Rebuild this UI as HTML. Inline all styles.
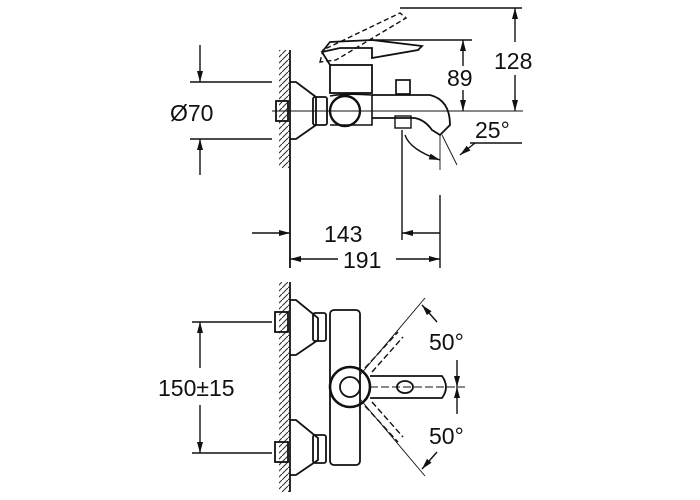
<!DOCTYPE html>
<html><head><style>body{margin:0;background:#fff}svg{display:block}</style></head><body>
<svg width="700" height="500" viewBox="0 0 700 500" xmlns="http://www.w3.org/2000/svg" font-family="Liberation Sans, sans-serif">
<defs>
<marker id="a" markerWidth="11" markerHeight="8" refX="11" refY="4" orient="auto" markerUnits="userSpaceOnUse"><path d="M0,1 L11,4 L0,7z" fill="#111"/></marker>
<pattern id="h" width="6" height="6" patternUnits="userSpaceOnUse"><path d="M0,6 L6,0" stroke="#333" stroke-width="1.1"/></pattern>
</defs>
<g stroke="#111" fill="none" stroke-width="1.4">
<!-- TOP VIEW -->
<rect x="279" y="50" width="10" height="118" fill="url(#h)" stroke="none"/>
<line x1="290" y1="50" x2="290" y2="268" stroke-width="1.8"/>
<line x1="190" y1="82" x2="272" y2="82"/><line x1="190" y1="139" x2="272" y2="139"/>
<line x1="200" y1="45" x2="200" y2="82" marker-end="url(#a)"/><line x1="200" y1="175" x2="200" y2="139" marker-end="url(#a)"/>
<line x1="272" y1="111" x2="523" y2="111" stroke-width="0.9"/>
<rect x="276" y="101" width="12" height="20" stroke-width="1.8"/>
<path d="M290,82 L296,82 L316,97 L316,125 L296,139 L290,139" stroke-width="1.8"/>
<rect x="313" y="97" width="14" height="28" rx="2" stroke-width="1.8"/>
<circle cx="345" cy="111" r="15" stroke-width="2.4"/>
<path d="M330,96 Q345,93 372,95 L372,125 L330,125" stroke-width="1.6"/>
<rect x="330" y="65" width="42" height="28" stroke-width="1.8"/>
<path d="M330,65 L322,52 L340,48 L372,48 L372,58 L418,50 L422,46 L372,40 L330,42 L322,52" stroke-width="1.8"/>
<path d="M320,62 L323,50 L400,13 L406,18 L336,60z" stroke-dasharray="5,3"/>
<path d="M372,95 L430,95 Q450,100 450,125 L440,135 L432,130 Q425,120 415,118 L372,118" stroke-width="1.8"/>
<rect x="396" y="80" width="14" height="14" stroke-width="1.7"/>
<rect x="395" y="116" width="16" height="12"/>
<path d="M405,135 Q410,150 440,160" marker-end="url(#a)"/>
<line x1="440" y1="135" x2="440" y2="170" stroke-width="0.9"/>
<line x1="442" y1="135" x2="457" y2="165" stroke-width="0.9"/>
<line x1="372" y1="40" x2="472" y2="40"/>
<line x1="463" y1="66" x2="463" y2="40" marker-end="url(#a)"/><line x1="463" y1="90" x2="463" y2="111" marker-end="url(#a)"/>
<line x1="400" y1="8" x2="522" y2="8"/>
<line x1="515" y1="42" x2="515" y2="8" marker-end="url(#a)"/><line x1="515" y1="75" x2="515" y2="111" marker-end="url(#a)"/>
<line x1="470" y1="143" x2="522" y2="143"/><line x1="475" y1="143" x2="460" y2="155" marker-end="url(#a)"/>
<line x1="402" y1="130" x2="402" y2="240"/>
<line x1="440" y1="195" x2="440" y2="268"/>
<line x1="252" y1="233" x2="290" y2="233" marker-end="url(#a)"/><line x1="440" y1="233" x2="402" y2="233" marker-end="url(#a)"/>
<line x1="338" y1="259" x2="290" y2="259" marker-end="url(#a)"/><line x1="396" y1="259" x2="440" y2="259" marker-end="url(#a)"/>
<!-- BOTTOM VIEW -->
<rect x="279" y="282" width="10" height="210" fill="url(#h)" stroke="none"/>
<line x1="290" y1="282" x2="290" y2="492" stroke-width="1.8"/>
<g stroke-width="1.8">
<rect x="275" y="312" width="13" height="20"/>
<path d="M290,300 L296,300 L318,318 L318,340 L296,355 L290,355"/>
<rect x="313" y="313" width="13" height="28" rx="2"/>
<rect x="275" y="442" width="13" height="20"/>
<path d="M290,420 L296,420 L318,438 L318,460 L296,475 L290,475"/>
<rect x="313" y="435" width="13" height="28" rx="2"/>
<rect x="330" y="310" width="30" height="155" rx="4"/>
<circle cx="350" cy="387" r="20" stroke-width="2.6"/>
<circle cx="350" cy="387" r="10"/>
<path d="M370,376 L442,376 Q450,387 442,398 L370,398"/>
<ellipse cx="405" cy="387" rx="8" ry="6"/>
</g>
<line x1="370" y1="387" x2="465" y2="387" stroke-width="0.9" stroke-dasharray="8,3"/>
<path d="M365,368 L398,332 M372,372 L403,337" stroke-dasharray="6,3"/>
<path d="M365,406 L398,442 M372,402 L403,437" stroke-dasharray="6,3"/>
<line x1="360" y1="375" x2="425" y2="298" stroke-width="0.9"/>
<line x1="360" y1="399" x2="425" y2="476" stroke-width="0.9"/>
<line x1="437" y1="322" x2="422" y2="305" marker-end="url(#a)"/><line x1="437" y1="452" x2="422" y2="469" marker-end="url(#a)"/>
<line x1="457" y1="360" x2="457" y2="387" marker-end="url(#a)"/><line x1="457" y1="414" x2="457" y2="387" marker-end="url(#a)"/>
<line x1="192" y1="322" x2="272" y2="322"/><line x1="192" y1="453" x2="272" y2="453"/>
<line x1="200" y1="368" x2="200" y2="322" marker-end="url(#a)"/><line x1="200" y1="405" x2="200" y2="453" marker-end="url(#a)"/>
</g>
<g fill="#111" font-size="23">
<text x="170" y="121">Ø70</text>
<text x="447" y="86">89</text>
<text x="494" y="69">128</text>
<text x="475" y="138">25°</text>
<text x="324" y="242">143</text>
<text x="343" y="268">191</text>
<text x="158" y="396">150±15</text>
<text x="429" y="350">50°</text>
<text x="429" y="444">50°</text>
</g>
</svg>
</body></html>
